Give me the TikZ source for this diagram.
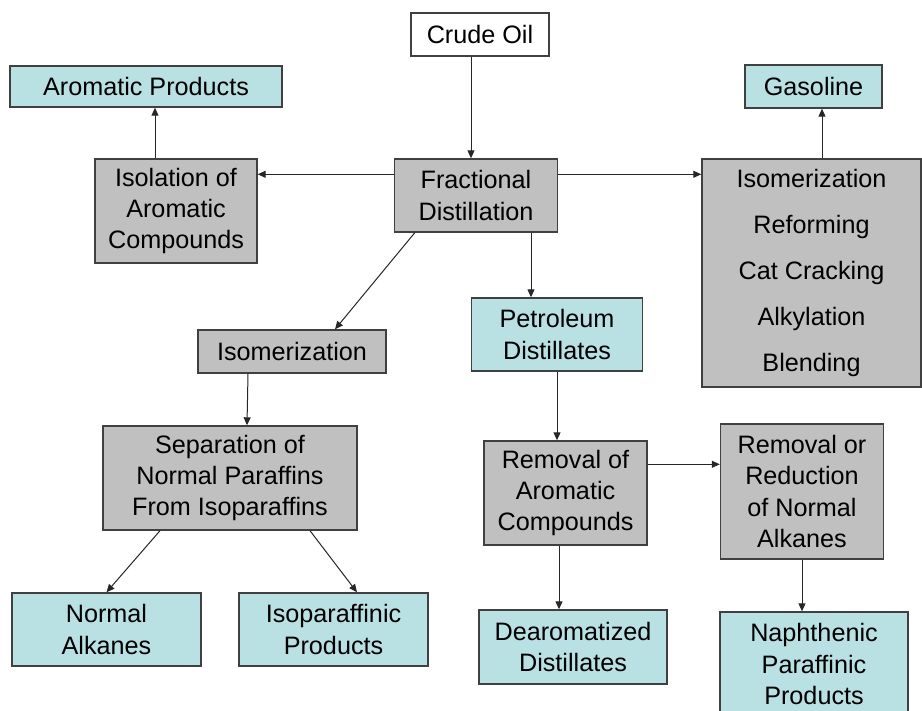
\documentclass[tikz,border=0pt]{standalone}
\usepackage{fontspec}
\setmainfont{Liberation Sans}
\usepackage{tikz}
\usetikzlibrary{arrows.meta}
\usepackage{xcolor}
\definecolor{prodblue}{HTML}{B9E0E3}
\definecolor{stepgray}{HTML}{C0C0C0}
\definecolor{edgegray}{HTML}{404040}

\tikzset{
  box/.style={draw=edgegray,line width=0.7pt,inner sep=0pt,align=center,
    font=\fontsize{12.6}{15.7}\selectfont},
  prod/.style={box,fill=prodblue},
  proc/.style={box,fill=stepgray},
}

\begin{document}
\begin{tikzpicture}[x=0.5pt,y=-0.5pt,>={Triangle[length=4pt,width=3.5pt]}]
\useasboundingbox (0,0) rectangle (922,711);
\node[box,fill=white,minimum width=69pt,minimum height=21.5pt] (crude) at (480,34.5) {Crude Oil};
\node[prod,minimum width=136pt,minimum height=20.5pt] (aromprod) at (146,86.5) {Aromatic Products};
\node[proc,minimum width=81pt,minimum height=52pt] (isol) at (176,211) {Isolation of\\Aromatic\\Compounds};
\node[proc,minimum width=81.5pt,minimum height=36.5pt] (frac) at (476,195.5) {Fractional\\Distillation};
\node[prod,minimum width=68.5pt,minimum height=21.5pt] (gasoline) at (813.5,86.5) {Gasoline};
\node[proc,minimum width=109.5pt,minimum height=114pt,font=\fontsize{12.6}{23}\selectfont] (refine) at (811.5,273) {Isomerization\\Reforming\\Cat Cracking\\Alkylation\\Blending};
\node[proc,minimum width=94pt,minimum height=21.5pt] (isom) at (292,351.5) {Isomerization};
\node[prod,minimum width=85.5pt,minimum height=36.5pt] (petro) at (557,334.5) {Petroleum\\Distillates};
\node[proc,minimum width=127pt,minimum height=52pt] (sep) at (230,478) {Separation of\\Normal Paraffins\\From Isoparaffins};
\node[prod,minimum width=94.5pt,minimum height=36.5pt] (normal) at (106.5,629.5) {Normal\\Alkanes};
\node[prod,minimum width=94.5pt,minimum height=36.5pt] (isoprod) at (333.5,629.5) {Isoparaffinic\\Products};
\node[proc,minimum width=81.5pt,minimum height=52pt] (remarom) at (565.5,493) {Removal of\\Aromatic\\Compounds};
\node[proc,minimum width=81.5pt,minimum height=67.5pt] (remred) at (802,491.5) {Removal or\\Reduction\\of Normal\\Alkanes};
\node[prod,minimum width=94pt,minimum height=37pt] (dearom) at (573,647) {Dearomatized\\Distillates};
\node[prod,minimum width=94pt,minimum height=52pt] (naph) at (814,664) {Naphthenic\\Paraffinic\\Products};
% connectors
\begin{scope}[draw=black!85,line width=0.5pt]
\draw[->] ([xshift=-4.5pt]crude.south) -- ([xshift=-4.5pt]crude.south |- frac.north);
\draw[->] ([yshift=-8pt]frac.north west) -- ([yshift=-8pt]frac.north west -| isol.east);
\draw[->] ([yshift=-8pt]frac.north east) -- ([yshift=-8pt]frac.north east -| refine.west);
\draw[->] ([xshift=-10.5pt]isol.north) -- ([xshift=-10.5pt]isol.north |- aromprod.south);
\draw[->] ([xshift=5.25pt]refine.north) -- ([xshift=5.25pt]refine.north |- gasoline.south);
\draw[->] ([xshift=10.5pt]frac.south west) -- ([xshift=21.5pt]isom.north);
\draw[->] ([xshift=27.5pt]frac.south) -- ([xshift=27.5pt]frac.south |- petro.north);
\draw[->] ([xshift=-22pt]isom.south) -- ([xshift=8.5pt]sep.north);
\draw[->] ([xshift=-35pt]sep.south) -- (normal.north);
\draw[->] ([xshift=40pt]sep.south) -- ([xshift=11.75pt]isoprod.north);
\draw[->] (petro.south) -- (petro.south |- remarom.north);
\draw[->] ([yshift=-12pt]remarom.north east) -- ([yshift=-12pt]remarom.north east -| remred.west);
\draw[->] ([xshift=-3.25pt]remarom.south) -- ([xshift=-3.25pt]remarom.south |- dearom.north);
\draw[->] (remred.south) -- (remred.south |- naph.north);
\end{scope}
\end{tikzpicture}
\end{document}
